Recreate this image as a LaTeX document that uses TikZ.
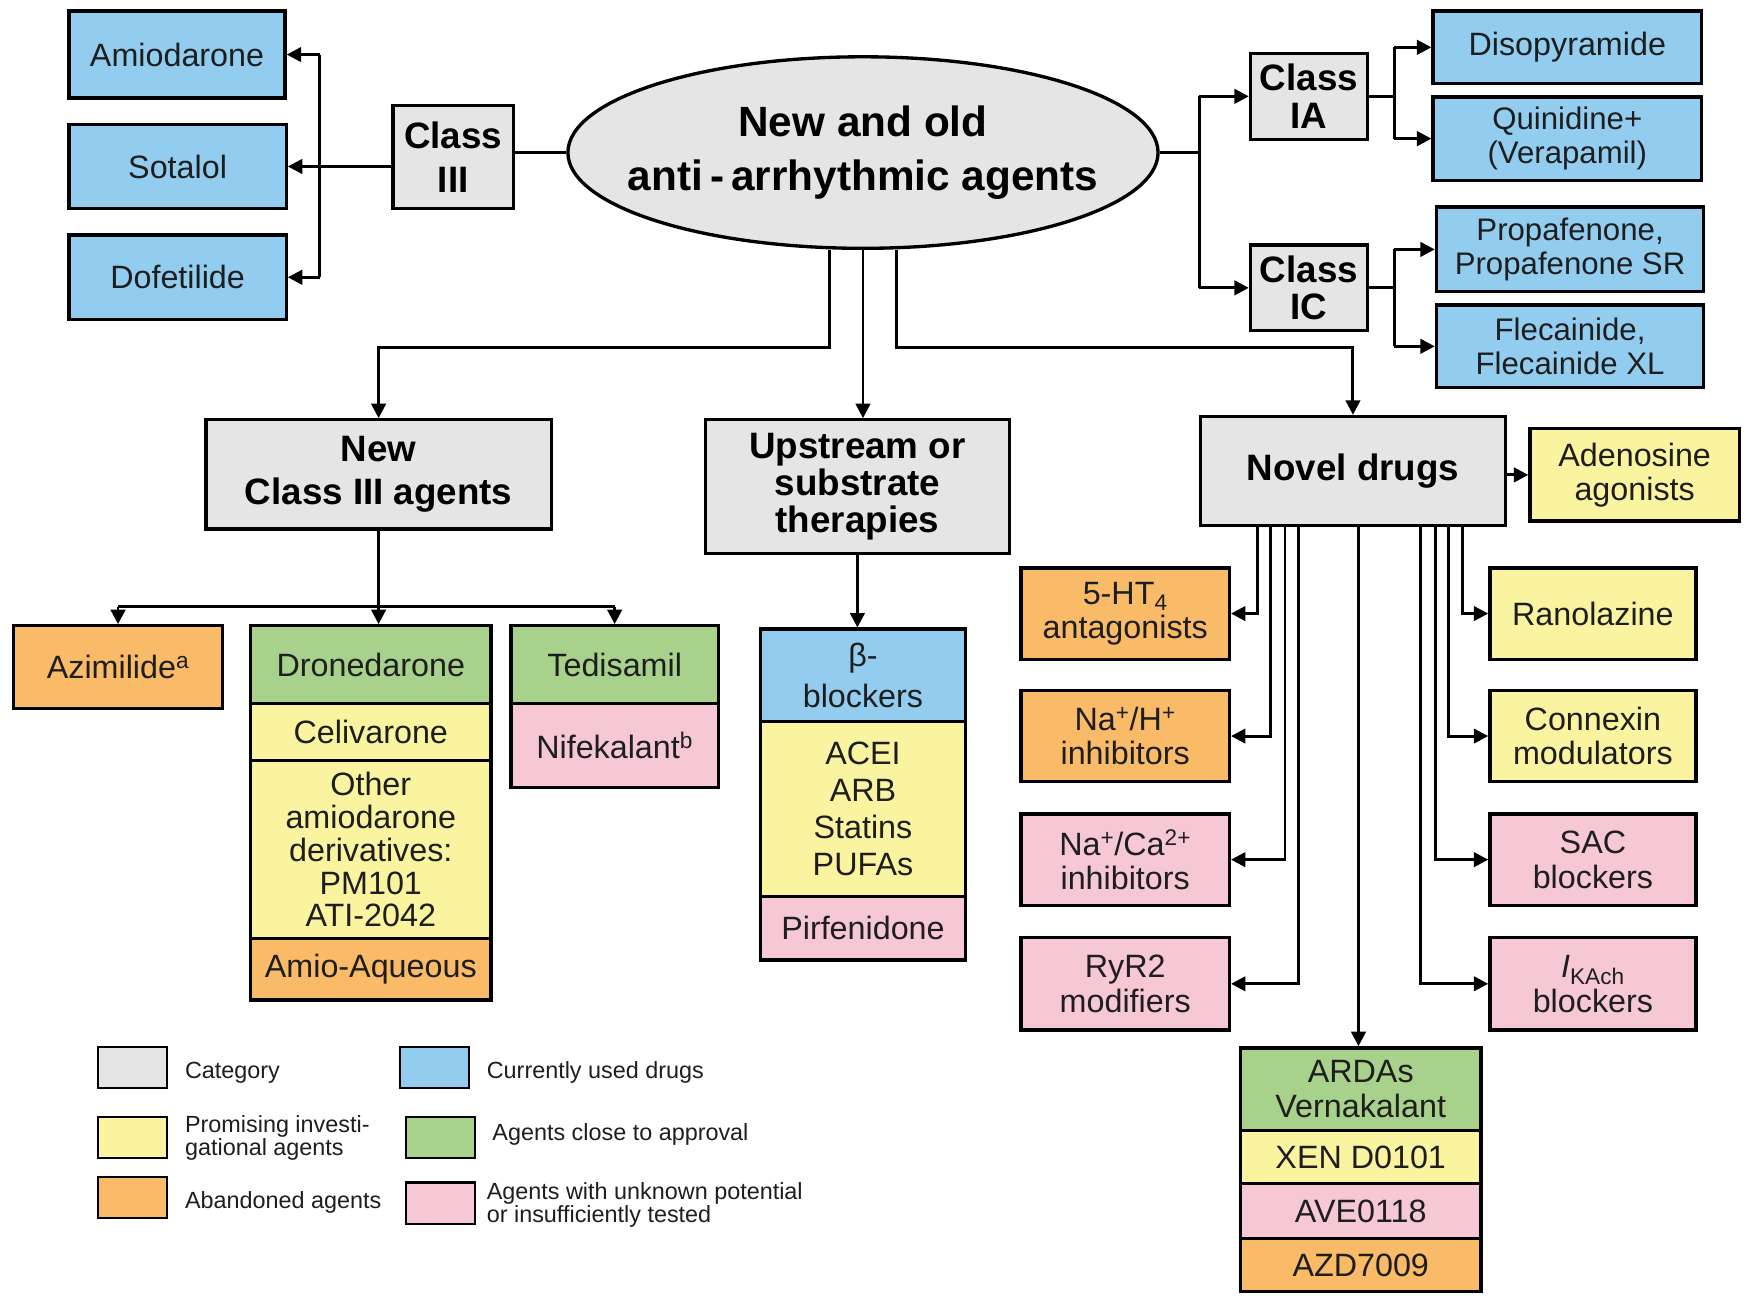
\documentclass[tikz,border=0pt]{standalone}
\usepackage{fontspec}
\setmainfont{Liberation Sans}
\usetikzlibrary{arrows.meta,shapes.geometric,calc}
\definecolor{cgray}{RGB}{229,229,229}
\definecolor{cblue}{RGB}{146,205,240}
\definecolor{cyel}{RGB}{250,244,160}
\definecolor{corg}{RGB}{249,187,104}
\definecolor{cgrn}{RGB}{168,210,140}
\definecolor{cpink}{RGB}{246,200,213}
\definecolor{txt}{RGB}{30,30,30}
\begin{document}
\begin{tikzpicture}[x=1pt,y=-1pt,
 box/.style={draw, line width=3pt, inner sep=0pt, align=center, text=txt, font=\fontsize{29}{31}\selectfont},
 cat/.style={box, fill=cgray, text=black, font=\bfseries\fontsize{33}{35}\selectfont},
 arr/.style={line width=2.6pt, -{Triangle[length=13pt,width=13pt]}},
 ln/.style={line width=2.6pt},
 sw/.style={draw, line width=2pt, minimum width=62pt, minimum height=37pt, inner sep=0pt},
 lg/.style={anchor=west, inner sep=0pt, align=left, text=txt, font=\fontsize{21}{21}\selectfont},
]
\useasboundingbox[fill=white] (0,0) rectangle (1568,1163);

% ---------- top left: Class III ----------
\node[box, fill=cblue, minimum width=194pt, minimum height=78pt] (amio) at (159,49) {Amiodarone};
\node[box, fill=cblue, minimum width=195pt, minimum height=75pt] (sot) at (159.5,149.5) {Sotalol};
\node[box, fill=cblue, minimum width=195pt, minimum height=76pt] (dof) at (159.5,249) {Dofetilide};
\node[cat, minimum width=108pt, minimum height=92pt, font=\bfseries\fontsize{33}{40}\selectfont] (c3) at (407,141) {Class\\III};

% ---------- centre ellipse ----------
\node[ellipse, draw, line width=3pt, fill=cgray, inner sep=0pt, minimum width=530pt, minimum height=172pt] (ell) at (775,137) {};
\node[align=center, inner sep=0pt, font=\bfseries\fontsize{38}{48}\selectfont] (ellt) at (ell.center) {New and old\\anti\,-\,arrhythmic agents};

% ---------- top right: Class IA / IC ----------
\node[cat, minimum width=105pt, minimum height=77pt, font=\bfseries\fontsize{33}{34}\selectfont] (cia) at (1175.5,86.5) {Class\\IA};
\node[cat, minimum width=105pt, minimum height=77pt, font=\bfseries\fontsize{33}{34}\selectfont] (cic) at (1175.5,258.5) {Class\\IC};
\node[box, fill=cblue, minimum width=241pt, minimum height=65pt] (diso) at (1407.5,42.5) {Disopyramide};
\node[box, fill=cblue, minimum width=241pt, minimum height=75pt, font=\fontsize{28}{30}\selectfont] (quin) at (1407.5,124.5) {Quinidine+\\(Verapamil)};
\node[box, fill=cblue, minimum width=240pt, minimum height=76pt, font=\fontsize{28}{30}\selectfont] (prop) at (1410,224) {Propafenone,\\Propafenone SR};
\node[box, fill=cblue, minimum width=240pt, minimum height=74pt, font=\fontsize{28}{31}\selectfont] (flec) at (1410,311) {Flecainide,\\Flecainide XL};

% ---------- second level ----------
\node[cat, minimum width=310pt, minimum height=98pt, font=\bfseries\fontsize{33}{39}\selectfont] (nc3) at (340,426) {New\\Class III agents};
\node[cat, minimum width=273pt, minimum height=120pt, font=\bfseries\fontsize{33}{33}\selectfont] (ups) at (770,437) {Upstream or\\substrate\\therapies};
\node[cat, minimum width=274pt, minimum height=98pt] (nov) at (1215,423) {Novel drugs};
\node[box, fill=cyel, minimum width=188pt, minimum height=83pt] (ade) at (1468,426.5) {Adenosine\\agonists};

% ---------- New Class III children ----------
\node[box, fill=corg, minimum width=188pt, minimum height=74pt] (azi) at (106,599) {Azimilide\textsuperscript{a}};
\node[box, fill=cgrn, minimum width=216pt, minimum height=70pt] (dro) at (333,597) {Dronedarone};
\node[box, fill=cyel, minimum width=216pt, minimum height=51pt] (celi) at (333,657.5) {Celivarone};
\node[box, fill=cyel, minimum width=216pt, minimum height=160pt, font=\fontsize{29}{29.5}\selectfont] (oth) at (333,763) {Other\\amiodarone\\derivatives:\\PM101\\ATI-2042};
\node[box, fill=corg, minimum width=216pt, minimum height=55pt] (amaq) at (333,870.5) {Amio-Aqueous};
\node[box, fill=cgrn, minimum width=186pt, minimum height=70pt] (ted) at (552,597) {Tedisamil};
\node[box, fill=cpink, minimum width=186pt, minimum height=75pt] (nif) at (552,669.5) {Nifekalant\textsuperscript{b}};

% ---------- Upstream children ----------
\node[box, fill=cblue, minimum width=184pt, minimum height=83pt, font=\fontsize{29}{37}\selectfont] (beta) at (775,606.5) {β-\\blockers};
\node[box, fill=cyel, minimum width=184pt, minimum height=157pt, font=\fontsize{29}{33}\selectfont] (acei) at (775,726.5) {ACEI\\ARB\\Statins\\PUFAs};
\node[box, fill=cpink, minimum width=184pt, minimum height=57pt] (pirf) at (775,833.5) {Pirfenidone};

% ---------- Novel drugs children ----------
\node[box, fill=corg, minimum width=187pt, minimum height=82pt] (ht) at (1010.5,551) {5-HT\textsubscript{4}\\antagonists};
\node[box, fill=corg, minimum width=187pt, minimum height=82pt] (nah) at (1010.5,661) {Na\textsuperscript{+}/H\textsuperscript{+}\\inhibitors};
\node[box, fill=cpink, minimum width=187pt, minimum height=82pt] (naca) at (1010.5,772) {Na\textsuperscript{+}/Ca\textsuperscript{2+}\\inhibitors};
\node[box, fill=cpink, minimum width=187pt, minimum height=83pt] (ryr) at (1010.5,883.5) {RyR2\\modifiers};
\node[box, fill=cyel, minimum width=185pt, minimum height=82pt] (ran) at (1430.5,551) {Ranolazine};
\node[box, fill=cyel, minimum width=185pt, minimum height=82pt] (con) at (1430.5,661) {Connexin\\modulators};
\node[box, fill=cpink, minimum width=185pt, minimum height=82pt] (sac) at (1430.5,772) {SAC\\blockers};
\node[box, fill=cpink, minimum width=185pt, minimum height=83pt] (ika) at (1430.5,883.5) {\textit{I}\textsubscript{KAch}\\blockers};
\node[box, fill=cgrn, minimum width=216pt, minimum height=74pt] (ard) at (1222,978) {ARDAs\\Vernakalant};
\node[box, fill=cyel, minimum width=216pt, minimum height=48pt] (xen) at (1222,1039) {XEN D0101};
\node[box, fill=cpink, minimum width=216pt, minimum height=49pt] (ave) at (1222,1087.5) {AVE0118};
\node[box, fill=corg, minimum width=216pt, minimum height=48pt] (azd) at (1222,1136) {AZD7009};

% ---------- connectors: Class III ----------
\coordinate (b3) at (287,150);
\draw[ln] (b3 |- amio.east) -- (b3 |- dof.east);
\draw[arr] (b3 |- amio.east) -- (amio.east);
\draw[arr] (b3 |- dof.east) -- (dof.east);
\draw[arr] (c3.west |- sot.east) -- (sot.east);
\draw[ln] (c3.east |- ell.west) -- (ell.west);

% ---------- connectors: Class IA / IC ----------
\coordinate (bR) at (1077,137);
\draw[ln] (ell.east) -- (bR);
\draw[ln] (bR |- cia.west) -- (bR |- cic.west);
\draw[arr] (bR |- cia.west) -- (cia.west);
\draw[arr] (bR |- cic.west) -- (cic.west);
\coordinate (bIA) at (1252,87);
\draw[ln] (cia.east) -- (bIA |- cia.east);
\draw[ln] (bIA |- diso.west) -- (bIA |- quin.west);
\draw[arr] (bIA |- diso.west) -- (diso.west);
\draw[arr] (bIA |- quin.west) -- (quin.west);
\coordinate (bIC) at (1252,262);
\draw[ln] (cic.east) -- (bIC |- cic.east);
\draw[ln] (bIC |- prop.west) -- (bIC |- flec.west);
\draw[arr] (bIC |- prop.west) -- (prop.west);
\draw[arr] (bIC |- flec.west) -- (flec.west);

% ---------- connectors: ellipse to second level ----------
\coordinate (eL) at ([xshift=-30pt]ell.south);
\coordinate (eR) at ([xshift=30pt]ell.south);
\coordinate (jy) at (0,312);
\draw[arr] (eL) -- (eL |- jy) -| (nc3.north);
\draw[arr] (ell.south) -- (ell.south |- ups.north);
\draw[arr] (eR) -- (eR |- jy) -| (nov.north);

% ---------- connectors: New Class III ----------
\coordinate (jy2) at (0,545);
\draw[ln] (nc3.south) -- (nc3.south |- jy2);
\draw[ln] (azi.north |- jy2) -- (ted.north |- jy2);
\draw[arr] (azi.north |- jy2) -- (azi.north);
\draw[arr] (nc3.south |- jy2) -- (nc3.south |- dro.north);
\draw[arr] (ted.north |- jy2) -- (ted.north);

% ---------- connectors: Upstream ----------
\draw[arr] (ups.south) -- (ups.south |- beta.north);

% ---------- connectors: Novel drugs ----------
\draw[arr] (nov.east |- ade.west) -- (ade.west);
\draw[arr] ([xshift=-86pt]nov.south) |- (ht.east);
\draw[arr] ([xshift=-74pt]nov.south) |- (nah.east);
\draw[arr] ([xshift=-61pt]nov.south) |- (naca.east);
\draw[arr] ([xshift=-49pt]nov.south) |- (ryr.east);
\draw[arr] ([xshift=98pt]nov.south) |- (ran.west);
\draw[arr] ([xshift=86pt]nov.south) |- (con.west);
\draw[arr] ([xshift=74pt]nov.south) |- (sac.west);
\draw[arr] ([xshift=61pt]nov.south) |- (ika.west);
\draw[arr] ([xshift=5pt]nov.south) -- ([xshift=5pt]nov.south |- ard.north);

% ---------- legend ----------
\node[sw, fill=cgray] (sw1) at (119,958.5) {};
\node[lg] (t1) at (166,963) {Category};
\node[sw, fill=cyel] (sw2) at (119,1021.5) {};
\node[lg] (t2) at (166,1022) {Promising investi-\\gational agents};
\node[sw, fill=corg] (sw3) at (119,1075.5) {};
\node[lg] (t3) at (166,1080) {Abandoned agents};
\node[sw, fill=cblue] (sw4) at (390.5,958.5) {};
\node[lg] (t4) at (437,963) {Currently used drugs};
\node[sw, fill=cgrn] (sw5) at (395.5,1021.5) {};
\node[lg] (t5) at (442,1019) {Agents close to approval};
\node[sw, fill=cpink] (sw6) at (395.5,1080.5) {};
\node[lg] (t6) at (437,1082) {Agents with unknown potential\\or insufficiently tested};
\end{tikzpicture}
\end{document}
